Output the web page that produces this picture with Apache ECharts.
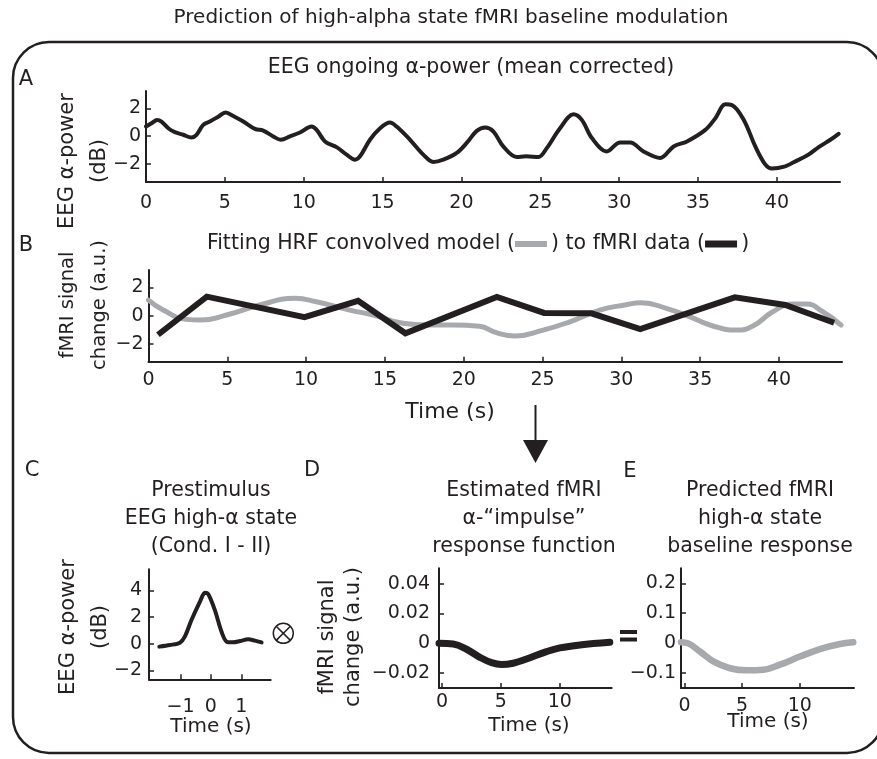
<!DOCTYPE html>
<html><head><meta charset="utf-8">
<script src="https://cdn.jsdelivr.net/npm/echarts@6/dist/echarts.min.js"></script>
<style>html,body{margin:0;padding:0;background:#fff}#c{width:877px;height:759px}</style>
</head><body><div id="c"></div>
<script>
// ---------- data ----------
const eegTime  = [0,0.35,0.71,0.98,1.41,1.83,2.36,2.88,3.2,3.63,4.05,4.58,5.05,5.53,6.17,6.91,7.43,8.07,8.55,9.13,9.76,10.5,10.82,11.35,12.08,12.72,13.25,13.57,14.2,14.84,15.47,15.89,16.74,17.58,18.22,18.85,19.7,20.4,20.97,21.5,22.03,22.65,23.5,24.1,24.88,25.41,26.25,27.1,27.63,28.27,29.21,30.06,30.7,31.54,32.6,33.45,34.3,35.46,36.1,36.73,37.15,37.9,38.63,39.27,39.69,40.53,41.06,42.0,42.65,43.39,43.91];
const eegPower = [0.69,0.93,1.17,1.05,0.57,0.29,0.1,-0.1,0.1,0.81,1.05,1.4,1.71,1.45,1.05,0.52,0.4,-0.02,-0.26,-0.02,0.26,0.69,0.45,-0.38,-0.79,-1.33,-1.69,-1.45,-0.26,0.57,0.98,0.69,-0.26,-1.33,-1.86,-1.69,-1.21,-0.4,0.38,0.62,0.33,-0.74,-1.5,-1.45,-1.5,-0.86,0.57,1.57,1.17,-0.14,-1.1,-0.45,-0.45,-1.1,-1.57,-0.74,-0.38,0.45,1.29,2.29,2.24,1.17,-0.74,-2.05,-2.33,-2.17,-1.88,-1.33,-0.79,-0.26,0.17];

const modelTime   = [0,0.93,2.4,3.3,4.95,7.06,9.3,10.65,12.77,14.25,16.15,17.63,19.3,21.0,22.07,23.24,25.04,26.73,28.63,30.21,31.27,32.85,34.33,35.81,37.29,38.35,39.61,40.88,41.73,42.78,43.94];
const modelSignal = [1.1,0.4,-0.26,-0.31,0.05,0.76,1.23,0.99,0.4,0.05,-0.54,-0.66,-0.66,-0.75,-1.2,-1.44,-1.02,-0.43,0.4,0.76,0.92,0.52,-0.07,-0.73,-1.02,-0.73,0.28,0.83,0.83,0.28,-0.66];

const fmriTime   = [0.6,3.7,9.9,13.3,16.3,22.1,25.1,28.1,31.2,37.2,40.4,43.5];
const fmriSignal = [-1.35,1.35,-0.1,1.05,-1.25,1.33,0.2,0.17,-0.95,1.3,0.76,-0.5];

const prestimTime  = [-1.70,-1.35,-1.02,-0.86,-0.64,-0.36,-0.2,-0.09,0.13,0.35,0.52,0.73,0.96,1.23,1.45,1.67];
const prestimPower = [-0.22,-0.1,0.08,0.53,1.78,3.16,3.83,3.74,2.53,0.9,0.15,0.1,0.2,0.33,0.23,0.1];

const irfTime   = [-0.25,0.96,2.09,3.22,4.21,5.06,6.04,7.18,8.87,10.0,11.7,14.24];
const irfSignal = [0,-0.0005,-0.004,-0.0094,-0.013,-0.0143,-0.0134,-0.0105,-0.0056,-0.0031,-0.0011,0.0007];

const predTime   = [-0.3,0.33,1.34,2.5,3.95,5.39,6.83,8.28,10.01,11.75,13.48,14.64];
const predSignal = [0.003,-0.001,-0.028,-0.061,-0.084,-0.091,-0.089,-0.072,-0.045,-0.02,-0.003,0.003];

const ticksLongX = [0,5,10,15,20,25,30,35,40];
const ticksAY = [-2,0,2];
const ticksCX = [-1,0,1];
const ticksCY = [-2,0,2,4];
const ticksShortX = [0,5,10];
const ticksDY = [-0.02,0,0.02,0.04];
const ticksEY = [-0.1,0,0.1,0.2];

// ---------- styling ----------
const INK = '#231f20', GREY = '#a7a9ac', FONT = 'DejaVu Sans';
const fmt = v => (v < 0 ? '\u2212' : '') + Math.abs(v);
const zip = (a, b) => a.map((t, i) => [t, b[i]]);

function xAx(gi, min, max, ticks, margin) {
  return { type:'value', gridIndex:gi, min, max, position:'bottom',
    axisLine:{show:true,onZero:false,lineStyle:{color:INK,width:2}},
    axisTick:{show:true,inside:true,length:5,customValues:ticks,lineStyle:{color:INK,width:1.5}},
    axisLabel:{customValues:ticks,margin,fontFamily:FONT,fontSize:19,color:INK,formatter:fmt},
    splitLine:{show:false} };
}
function yAx(gi, min, max, ticks, margin) {
  return { type:'value', gridIndex:gi, min, max, position:'left',
    axisLine:{show:true,onZero:false,lineStyle:{color:INK,width:2}},
    axisTick:{show:true,inside:true,length:5,customValues:ticks,lineStyle:{color:INK,width:1.5}},
    axisLabel:{customValues:ticks,margin,fontFamily:FONT,fontSize:19,color:INK,formatter:fmt},
    splitLine:{show:false} };
}
function line(gi, data, color, width, smooth, z) {
  return { type:'line', xAxisIndex:gi, yAxisIndex:gi, data, showSymbol:false, symbol:'none',
    smooth, z, lineStyle:{color, width, cap:'round', join:'round'}, animation:false };
}
function txt(x, y, text, size, lh) {
  const st = { text, fill:INK, font: size + 'px "' + FONT + '"', align:'center', verticalAlign:'middle' };
  if (lh) st.lineHeight = lh;
  return { type:'text', x, y, silent:true, style:st };
}
function vtxt(x, y, text, size, lh) {
  return { type:'text', x, y, rotation:Math.PI/2, silent:true,
    style:{ text, fill:INK, font: size + 'px "' + FONT + '"', align:'center', verticalAlign:'middle', lineHeight:lh } };
}

const chart = echarts.init(document.getElementById('c'), null, {renderer:'canvas'});
chart.setOption({
  animation:false,
  backgroundColor:'#fff',
  grid:[
    {left:146, top:91, width:694, height:91},
    {left:148.5, top:270, width:693.5, height:91.7},
    {left:149, top:569.3, width:121.7, height:110},
    {left:439, top:568.3, width:172.7, height:119.7},
    {left:681, top:568.3, width:173, height:119.7}
  ],
  xAxis:[
    xAx(0, 0, 44, ticksLongX, 12),
    xAx(1, 0, 44, ticksLongX, 9),
    xAx(2, -2.04, 1.97, ticksCX, 18),
    xAx(3, -0.25, 14.4, ticksShortX, 5),
    xAx(4, -0.3, 14.7, ticksShortX, 9)
  ],
  yAxis:[
    yAx(0, -3.3, 3.25, ticksAY, 5),
    yAx(1, -3.26, 3.24, ticksAY, 5),
    yAx(2, -2.68, 5.6, ticksCY, 7),
    yAx(3, -0.03, 0.0503, ticksDY, 9),
    yAx(4, -0.15, 0.25, ticksEY, 5)
  ],
  series:[
    line(0, zip(eegTime, eegPower), INK, 4, 0.35, 3),
    line(1, zip(modelTime, modelSignal), GREY, 5, 0.5, 2),
    Object.assign(line(1, zip(fmriTime, fmriSignal), INK, 6, false, 3), {lineStyle:{color:INK,width:6,cap:'butt',join:'miter'}}),
    line(2, zip(prestimTime, prestimPower), INK, 4, 0.3, 3),
    line(3, zip(irfTime, irfSignal), INK, 7, 0.4, 3),
    line(4, zip(predTime, predSignal), GREY, 6.5, 0.4, 3)
  ],
  graphic:[
    {type:'rect', silent:true, shape:{x:13, y:42, width:870, height:711, r:36},
      style:{fill:null, stroke:INK, lineWidth:2.5}},
    txt(451, 18, 'Prediction of high-alpha state fMRI baseline modulation', 20),
    txt(26, 80, 'A', 21), txt(26, 246, 'B', 21),
    txt(32, 471, 'C', 21), txt(312, 471, 'D', 21), txt(630, 472, 'E', 21),
    txt(471, 68, 'EEG ongoing \u03b1-power (mean corrected)', 20.5),
    { type:'text', x:478, y:244, silent:true,
      style:{ text:'Fitting HRF convolved model ({g| }\u2009) to fMRI data ({k| }\u2009)', fill:INK,
        font:'20.5px "' + FONT + '"', align:'center', verticalAlign:'middle',
        rich:{ g:{backgroundColor:GREY, width:32, height:6, lineHeight:6, verticalAlign:'middle', fontSize:1},
               k:{backgroundColor:INK, width:32, height:7, lineHeight:7, verticalAlign:'middle', fontSize:1} } } },
    vtxt(84, 161, 'EEG \u03b1-power\n(dB)', 21, 32),
    vtxt(84, 305, 'fMRI signal\nchange (a.u.)', 19.5, 32),
    vtxt(85, 627, 'EEG \u03b1-power\n(dB)', 21, 32),
    vtxt(341, 637, 'fMRI signal\nchange (a.u.)', 21, 26),
    txt(450, 412, 'Time (s)', 22),
    txt(211, 727, 'Time (s)', 20),
    txt(529, 726, 'Time (s)', 20),
    txt(768, 722, 'Time (s)', 20),
    txt(211, 519, 'Prestimulus\nEEG high-\u03b1 state\n(Cond. I - II)', 20.5, 28),
    txt(524, 519, 'Estimated fMRI\n\u03b1-\u201cimpulse\u201d\nresponse function', 20.5, 28),
    txt(760, 519, 'Predicted fMRI\nhigh-\u03b1 state\nbaseline response', 20.5, 28),
    {type:'line', silent:true, shape:{x1:535.5, y1:405, x2:535.5, y2:445}, style:{stroke:INK, lineWidth:2}},
    {type:'polygon', silent:true, shape:{points:[[523,440],[548,440],[535.5,463]]}, style:{fill:INK}},
    {type:'circle', silent:true, shape:{cx:283.3, cy:633.3, r:10}, style:{fill:null, stroke:INK, lineWidth:1.5}},
    {type:'line', silent:true, shape:{x1:276.2, y1:626.2, x2:290.4, y2:640.4}, style:{stroke:INK, lineWidth:1.5}},
    {type:'line', silent:true, shape:{x1:290.4, y1:626.2, x2:276.2, y2:640.4}, style:{stroke:INK, lineWidth:1.5}},
    {type:'rect', silent:true, shape:{x:620, y:630, width:17, height:4}, style:{fill:INK}},
    {type:'rect', silent:true, shape:{x:620, y:637.5, width:17, height:4}, style:{fill:INK}}
  ]
});
</script></body></html>
